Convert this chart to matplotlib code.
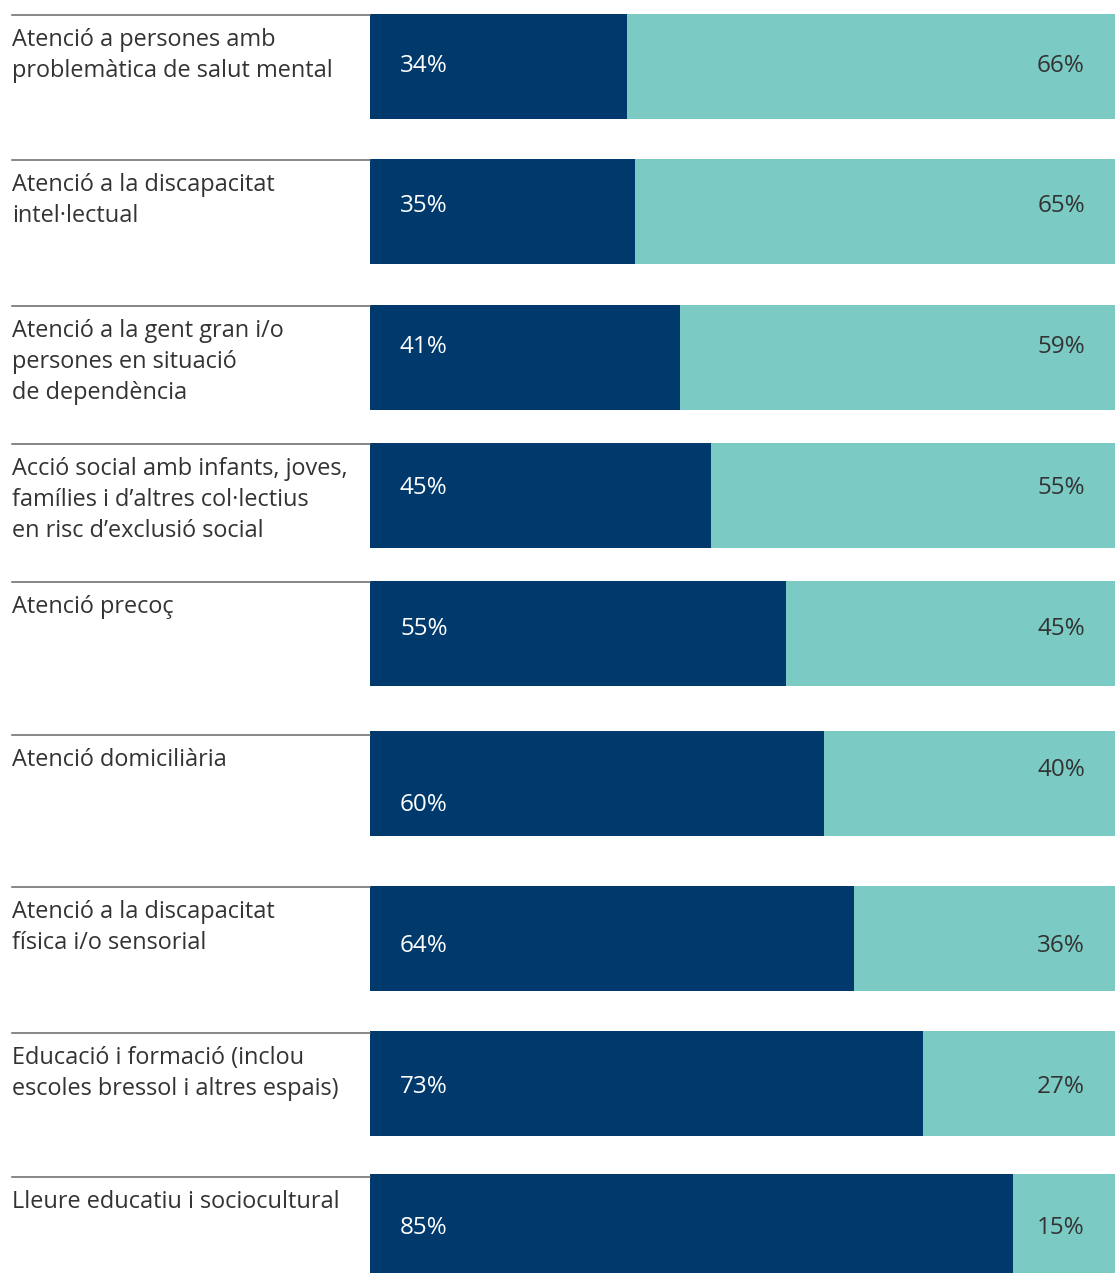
import numpy as np
import matplotlib.pyplot as plt
from matplotlib.lines import Line2D

plt.rcParams['font.family'] = ['Open Sans', 'DejaVu Sans']

# Dades
categories = [
    "Atenció a persones amb\nproblemàtica de salut mental",
    "Atenció a la discapacitat\nintel·lectual",
    "Atenció a la gent gran i/o\npersones en situació\nde dependència",
    "Acció social amb infants, joves,\nfamílies i d’altres col·lectius\nen risc d’exclusió social",
    "Atenció precoç",
    "Atenció domiciliària",
    "Atenció a la discapacitat\nfísica i/o sensorial",
    "Educació i formació (inclou\nescoles bressol i altres espais)",
    "Lleure educatiu i sociocultural",
]
valors_a = [34, 35, 41, 45, 55, 60, 64, 73, 85]
valors_b = [66, 65, 59, 55, 45, 40, 36, 27, 15]

# Disposició (píxels)
W, H = 1115, 1273
top_barra = [14, 159, 305, 443, 581, 731, 886, 1031, 1176]
alt_barra = 105
linia_y = [15, 160, 306, 444, 582, 735, 887, 1033, 1177]
etiq_a_y = [66, 206, 347, 488, 629, 805, 946, 1087, 1228]
etiq_b_y = [66, 206, 347, 488, 629, 770, 946, 1087, 1228]

fosc = '#003A6C'
clar = '#7BCBC4'
gris = '#333333'

fig = plt.figure(figsize=(W / 100, H / 100), dpi=100)
ax = fig.add_axes([370 / W, 0, 1 - 370 / W, 1])
escala = 7.57  # px per %
ax.set_xlim(0, (W - 370) / escala)
ax.set_ylim(H, 0)
ax.axis('off')

centres = [t + alt_barra / 2 for t in top_barra]
alts = [alt_barra] * len(centres)
alts[-1] = alt_barra + 5
ax.barh(centres, valors_a, height=alts, color=fosc, linewidth=0)
ax.barh(centres, valors_b, left=valors_a, height=alts, color=clar, linewidth=0)

x_b = (1085 - 370) / escala
for i in range(len(categories)):
    ax.text(30 / escala, etiq_a_y[i], f"{valors_a[i]}%", color='white',
            fontsize=17.5, ha='left', va='center')
    ax.text(x_b, etiq_b_y[i], f"{valors_b[i]}%", color=gris,
            fontsize=17.5, ha='right', va='center')
    fig.add_artist(Line2D([12 / W, 370 / W], [1 - linia_y[i] / H] * 2,
                          color='#666666', linewidth=1.1))
    fig.text(12 / W, 1 - (linia_y[i] + 13) / H, categories[i], color=gris,
             fontsize=16.9, ha='left', va='top', linespacing=1.4)

fig.savefig("out.png", dpi=100)
